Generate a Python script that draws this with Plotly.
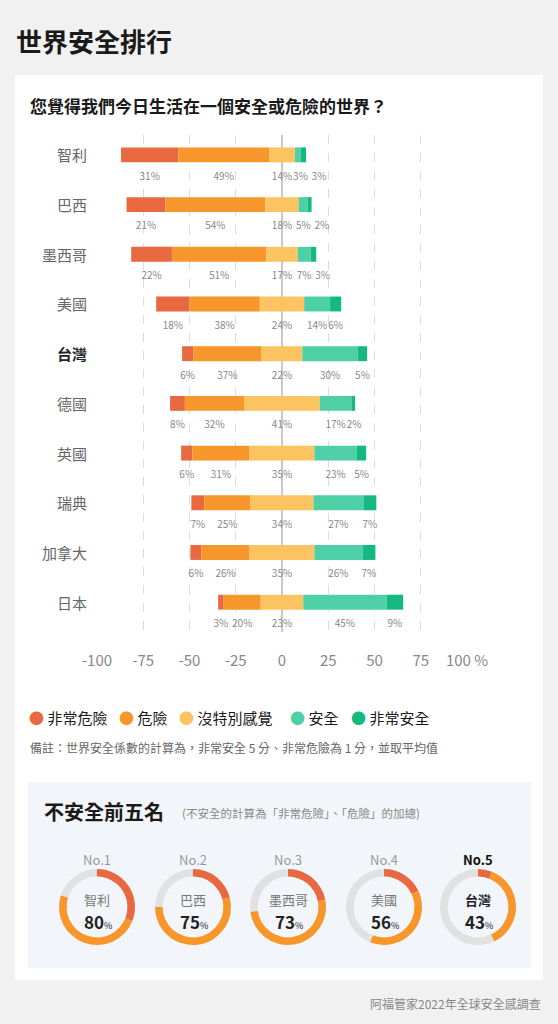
import plotly.graph_objects as go

countries = ["智利","巴西","墨西哥","美國","台灣","德國","英國","瑞典","加拿大","日本"]
very_danger = [31,21,22,18,6,8,6,7,6,3]
danger = [49,54,51,38,37,32,31,25,26,20]
neutral = [14,18,17,24,22,41,35,34,35,23]
safe = [3,5,7,14,30,17,23,27,26,45]
very_safe = [3,2,3,6,5,2,5,7,7,9]
series_names = ["非常危險","危險","沒特別感覺","安全","非常安全"]
colors = ["#e8693f","#f7962b","#fbc460","#4fcfa6","#14b981"]
xticks = [-100,-75,-50,-25,0,25,50,75,100]
xticklabels = ["-100","-75","-50","-25","0","25","50","75","100 %"]
top5 = ["智利","巴西","墨西哥","美國","台灣"]
top5_val = [80,75,73,56,43]

W, H = 558, 1024
FONT = "Noto Sans CJK TC"
fig = go.Figure()

series = [very_danger, danger, neutral, safe, very_safe]
rows = list(range(len(countries)))
lab_x, lab_y, lab_t = [], [], []
GAP = 10
for i in rows:
    vals = [s[i] for s in series]
    cur = -(vals[0] + vals[1] + vals[2] / 2)
    centers = []
    for k, v in enumerate(vals):
        fig.add_trace(go.Bar(x=[v], y=[i], base=[cur], orientation="h", width=0.3,
                             marker=dict(color=colors[k], line=dict(width=0)),
                             showlegend=False, hoverinfo="skip"))
        centers.append(cur + v / 2)
        cur += v
    for j in range(1, len(centers)):
        if centers[j] - centers[j-1] < GAP:
            centers[j] = centers[j-1] + GAP
    for k, v in enumerate(vals):
        lab_x.append(centers[k]); lab_y.append(i + 0.45); lab_t.append(f"{v}%")
fig.add_trace(go.Scatter(x=lab_x, y=lab_y, text=lab_t, mode="text",
                         textfont=dict(size=10, color="#888", family=FONT),
                         showlegend=False, hoverinfo="skip"))

fig.update_layout(
    width=W, height=H, margin=dict(l=0, r=0, t=0, b=0, autoexpand=False),
    paper_bgcolor="#f1f1f1", plot_bgcolor="rgba(0,0,0,0)", barmode="overlay",
    font=dict(family=FONT),
    xaxis=dict(domain=[97/W, 467/W], range=[-100, 100], tickvals=xticks, ticktext=xticklabels,
               showgrid=True, gridcolor="#dcdcdc", griddash="dash", gridwidth=1,
               zeroline=True, zerolinecolor="#c8c8d0", zerolinewidth=1.5, automargin=False,
               tickfont=dict(size=15, color="#888"), ticklabelstandoff=18, showline=False, fixedrange=True),
    yaxis=dict(domain=[(H-632)/H, (H-135)/H], range=[9.6, -0.4], visible=False, fixedrange=True,
               automargin=False),
)

shapes = [
    dict(type="rect", xref="paper", yref="paper", x0=15/W, x1=543/W, y0=1-980/H, y1=1-75/H,
         fillcolor="white", line=dict(width=0), layer="below"),
    dict(type="rect", xref="paper", yref="paper", x0=28/W, x1=531/W, y0=1-968/H, y1=1-782/H,
         fillcolor="#f2f5f9", line=dict(width=0), layer="below"),
]
fig.update_layout(shapes=shapes)

ann = []
def A(x, y, text, size, color, anchor="left", bold=False):
    t = f"<b>{text}</b>" if bold else text
    ann.append(dict(xref="paper", yref="paper", x=x/W, y=1-y/H, text=t, showarrow=False,
                    xanchor=anchor, yanchor="middle", font=dict(size=size, color=color, family=FONT)))

A(14, 40, "世界安全排行", 26, "#1a1a1a", bold=True)
A(28, 105, "您覺得我們今日生活在一個安全或危險的世界？", 17, "#1a1a1a", bold=True)
for i, c in enumerate(countries):
    ann.append(dict(xref="paper", yref="y", x=89/W, y=i, text=f"<b>{c}</b>" if c == "台灣" else c,
                    showarrow=False, xanchor="right", yanchor="middle",
                    font=dict(size=15, color="#222" if c == "台灣" else "#666", family=FONT)))
lx = [27, 117, 177, 288, 349]
for k, n in enumerate(series_names):
    ann.append(dict(xref="paper", yref="paper", x=lx[k]/W, y=1-717/H,
                    text=f"<span style='color:{colors[k]}'>●</span> {n}", showarrow=False,
                    xanchor="left", yanchor="middle", font=dict(size=15, color="#1a1a1a", family=FONT)))
A(28, 747, "備註：世界安全係數的計算為，非常安全 5 分、非常危險為 1 分，並取平均值", 12, "#666")
A(42, 811, "不安全前五名", 20, "#1a1a1a", bold=True)
A(180, 813, "(不安全的計算為「非常危險」、「危險」的加總)", 11.5, "#888")
A(543, 1003, "阿福管家2022年全球安全感調查", 12, "#888", anchor="right")

cx = [97, 193, 288, 384, 478]
cy = 907
r = 38
for i, c in enumerate(top5):
    idx = countries.index(c)
    vd, d = very_danger[idx], danger[idx]
    fig.add_trace(go.Pie(values=[vd, d, 100 - vd - d], hole=0.8, sort=False, direction="clockwise",
                         rotation=0, marker=dict(colors=[colors[0], colors[1], "#e1e1e1"], line=dict(width=0)),
                         textinfo="none", hoverinfo="skip", showlegend=False,
                         domain=dict(x=[(cx[i]-r)/W, (cx[i]+r)/W], y=[1-(cy+r)/H, 1-(cy-r)/H])))
    last = (i == 4)
    A(cx[i], 859, f"<b>No.{i+1}</b>" if last else f"No.{i+1}", 13, "#111" if last else "#999", anchor="center")
    A(cx[i], 899, f"<b>{c}</b>" if last else c, 13, "#222" if last else "#777", anchor="center")
    A(cx[i]+1, 921, f"<b>{top5_val[i]}</b><span style='font-size:9px'>%</span>", 17, "#222", anchor="center")

fig.update_layout(annotations=ann)
fig.write_html("out.html", config={"responsive": False, "displayModeBar": False},
               post_script="document.body.style.margin='0';document.body.style.overflow='hidden';")
